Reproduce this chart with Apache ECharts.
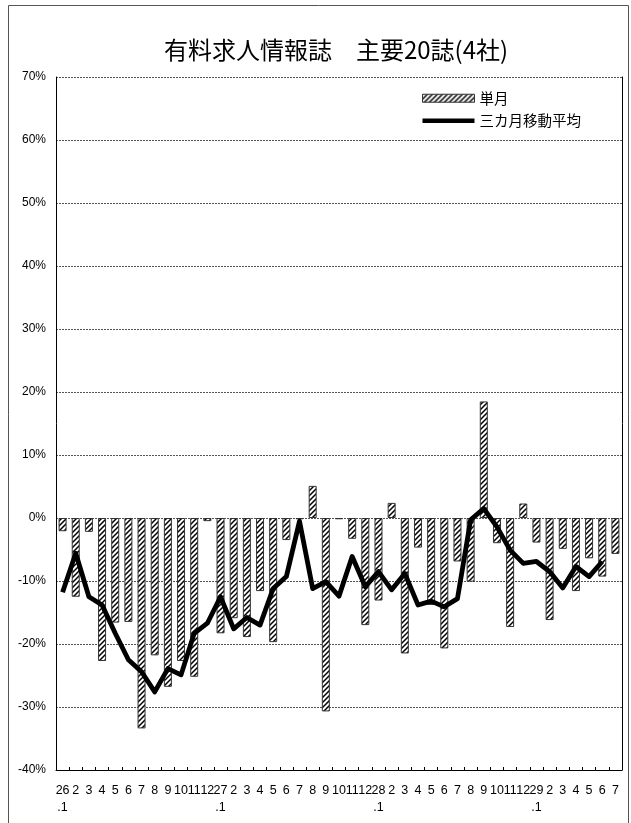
<!DOCTYPE html>
<html>
<head>
<meta charset="utf-8">
<script src="https://cdn.jsdelivr.net/npm/echarts@6/dist/echarts.min.js"></script>
<style>
html,body{margin:0;padding:0;background:#fff;}
#c{width:631px;height:823px;}
</style>
</head>
<body>
<div id="c"></div>
<script>
const titleText = '有料求人情報誌　主要20誌(4社)';
const barName = '単月';
const lineName = '三カ月移動平均';

const categories = [
  '26\n.1','2','3','4','5','6','7','8','9','10','11','12',
  '27\n.1','2','3','4','5','6','7','8','9','10','11','12',
  '28\n.1','2','3','4','5','6','7','8','9','10','11','12',
  '29\n.1','2','3','4','5','6','7'
];

const monthly = [
  -2.1, -12.5, -2.2, -22.7, -16.6, -16.5, -33.4, -21.8, -26.8, -22.7, -25.2, -0.5,
  -18.3, -15.9, -18.9, -11.6, -19.7, -3.5, -0.2, 5.1, -30.7, -0.2, -3.3, -17.0,
  -13.1, 2.4, -21.5, -4.7, -13.8, -20.7, -6.9, -10.1, 18.5, -4.0, -17.3, 2.3,
  -3.9, -16.2, -4.9, -11.6, -6.4, -9.3, -5.7
];

const movingAvg = [
  -11.8, -5.6, -12.5, -13.8, -18.3, -22.5, -24.4, -27.6, -23.9, -24.9, -18.3, -16.7,
  -12.5, -17.6, -15.8, -17.0, -11.2, -9.3, -0.5, -11.2, -10.1, -12.4, -6.1, -10.9,
  -8.5, -11.4, -8.8, -13.8, -13.2, -14.1, -12.8, -0.3, 1.5, -1.4, -5.1, -7.2,
  -6.9, -8.5, -11.1, -7.7, -9.3, -6.9, null
];

const yMin = -40, yMax = 70, yStep = 10;

// hatch pattern (dashed diagonal lines)
function makeHatch() {
  const s = 5;
  const cv = document.createElement('canvas');
  cv.width = s; cv.height = s;
  const ctx = cv.getContext('2d');
  ctx.fillStyle = '#ffffff';
  ctx.fillRect(0, 0, s, s);
  ctx.strokeStyle = '#000000';
  ctx.lineWidth = 1.5;
  ctx.beginPath();
  ctx.moveTo(0, s); ctx.lineTo(s, 0);
  ctx.moveTo(-1, 1); ctx.lineTo(1, -1);
  ctx.moveTo(s - 1, s + 1); ctx.lineTo(s + 1, s - 1);
  ctx.stroke();
  return cv;
}
const hatch = makeHatch();

const font = '"Liberation Sans", Arial, sans-serif';
const jpFont = '"Noto Sans CJK JP", sans-serif';

const chart = echarts.init(document.getElementById('c'), null, {renderer: 'canvas'});
chart.setOption({
  animation: false,
  backgroundColor: '#ffffff',
  title: {
    text: titleText,
    left: 331, top: 33, textAlign: 'center',
    textStyle: {fontFamily: jpFont, fontSize: 24, fontWeight: 'normal', color: '#000'}
  },
  legend: {
    orient: 'vertical',
    left: 417, top: 86,
    itemWidth: 52, itemHeight: 8, itemGap: 8,
    symbolKeepAspect: false,
    textStyle: {fontFamily: jpFont, fontSize: 14.5, color: '#000'},
    data: [
      {name: barName, icon: 'rect', itemStyle: {color: {image: hatch, repeat: 'repeat'}, borderColor: '#333', borderWidth: 1}},
      {name: lineName, icon: 'path://M0,0h0.01v0.01h-0.01z M0,1.7h10v4.6h-10z M0,7.99h0.01v0.01h-0.01z',
       itemStyle: {color: '#000', borderWidth: 0}}
    ]
  },
  graphic: [{
    type: 'rect', silent: true,
    shape: {x: 8.5, y: 5.5, width: 620, height: 830},
    style: {fill: null, stroke: '#555', lineWidth: 1}
  }],
  grid: {left: 56, right: 9, top: 77, bottom: 53, containLabel: false},
  xAxis: {
    type: 'category',
    data: categories,
    boundaryGap: true,
    axisLine: {onZero: false, lineStyle: {color: '#000', width: 1}},
    axisTick: {show: true, inside: true, length: 3, lineStyle: {color: '#000'}},
    axisLabel: {
      interval: 0, margin: 12, color: '#000',
      fontFamily: font, fontSize: 12.5, lineHeight: 17
    },
    splitLine: {show: false}
  },
  yAxis: [{
    type: 'value',
    min: yMin, max: yMax, interval: yStep,
    axisLine: {show: true, lineStyle: {color: '#000', width: 1}},
    axisTick: {show: false},
    axisLabel: {formatter: '{value}%', color: '#000', fontFamily: font, fontSize: 12, margin: 10},
    splitLine: {show: true, lineStyle: {color: '#555', type: [2, 1], width: 1}}
  }, {
    type: 'value', position: 'right',
    min: yMin, max: yMax, interval: yStep,
    axisLine: {show: true, lineStyle: {color: '#000', width: 1}},
    axisTick: {show: false}, axisLabel: {show: false}, splitLine: {show: false}
  }],
  series: [{
    name: barName,
    type: 'bar',
    data: monthly,
    barWidth: 8,
    itemStyle: {color: {image: hatch, repeat: 'repeat'}, borderColor: '#333', borderWidth: 1},
    z: 2
  }, {
    name: lineName,
    type: 'line',
    data: movingAvg,
    showSymbol: false, symbol: 'none',
    lineStyle: {color: '#000', width: 4.8, join: 'round'},
    itemStyle: {color: '#000'},
    z: 3
  }]
});
</script>
</body>
</html>
